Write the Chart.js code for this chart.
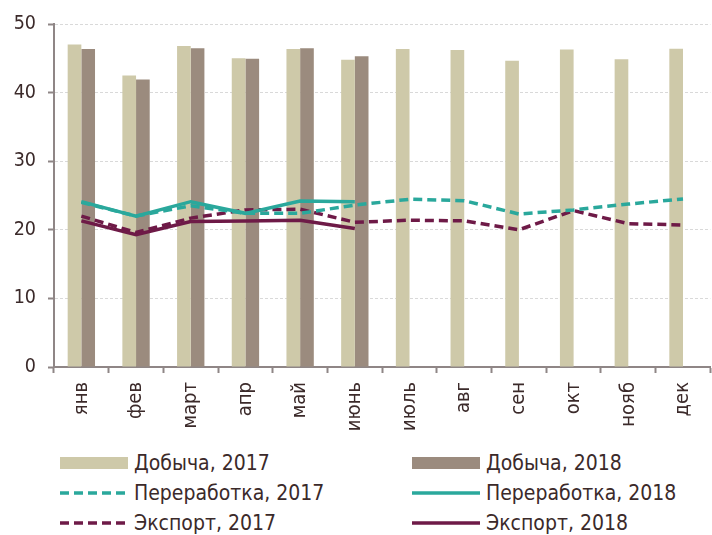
<!DOCTYPE html>
<html>
<head>
<meta charset="utf-8">
<script src="https://cdn.jsdelivr.net/npm/chart.js@4.4.1/dist/chart.umd.min.js"></script>
<style>
  body { margin: 0; background: #fff; overflow: hidden; width: 712px; height: 535px; position: relative; }
  #wrap { position: absolute; left: 0; top: 0; width: 716px; height: 440px; }
  .leg { position: absolute; height: 30px; display: flex; align-items: center; font-family: "DejaVu Sans Condensed", sans-serif; font-size: 21px; color: #3b2a2a; white-space: nowrap; }
  .leg svg { margin-right: 6px; }
</style>
</head>
<body>
<div id="wrap"><canvas id="chart" width="716" height="440"></canvas></div>
<div id="legend"></div>
<script>
const months = ['янв', 'фев', 'март', 'апр', 'май', 'июнь', 'июль', 'авг', 'сен', 'окт', 'нояб', 'дек'];
const yTicks = [0, 10, 20, 30, 40, 50];

const dobycha2017 = [47.0, 42.5, 46.8, 45.0, 46.35, 44.8, 46.35, 46.2, 44.65, 46.3, 44.85, 46.4];
const dobycha2018 = [46.35, 41.9, 46.45, 44.95, 46.45, 45.3];
const pererab2017 = [24.0, 22.0, 23.5, 22.4, 22.4, 23.6, 24.45, 24.25, 22.3, 22.9, 23.75, 24.5];
const pererab2018 = [24.1, 22.0, 24.1, 22.4, 24.2, 24.1];
const eksport2017 = [22.0, 19.6, 21.7, 22.9, 23.0, 21.1, 21.4, 21.3, 20.0, 22.8, 20.9, 20.7];
const eksport2018 = [21.3, 19.3, 21.2, 21.3, 21.4, 20.2];

const beige = '#cec9a9', brown = '#9b8b7e', teal = '#2aa89c', maroon = '#6e1a47';
const textColor = '#3b2a2a', axisColor = '#8f8686';
const fontFamily = '"DejaVu Sans Condensed", sans-serif';

var ctx = document.getElementById('chart').getContext('2d');

var myChart = new Chart(ctx, {
    type: 'bar',
    data: {
        labels: months,
        datasets: [
            { type: 'line', label: 'Переработка, 2018', data: pererab2018, borderColor: teal, borderWidth: 3.5, pointRadius: 0, tension: 0, order: 0 },
            { type: 'line', label: 'Экспорт, 2018', data: eksport2018, borderColor: maroon, borderWidth: 3.5, pointRadius: 0, tension: 0, order: 0 },
            { type: 'line', label: 'Переработка, 2017', data: pererab2017, borderColor: teal, borderWidth: 3.5, borderDash: [9, 5], pointRadius: 0, tension: 0, order: 0 },
            { type: 'line', label: 'Экспорт, 2017', data: eksport2017, borderColor: maroon, borderWidth: 3.5, borderDash: [9, 5], pointRadius: 0, tension: 0, order: 0 },
            { label: 'Добыча, 2017', data: dobycha2017, backgroundColor: beige, order: 1, categoryPercentage: 0.5, barPercentage: 1.0 },
            { label: 'Добыча, 2018', data: dobycha2018, backgroundColor: brown, order: 1, categoryPercentage: 0.5, barPercentage: 1.0 }
        ]
    },
    options: {
        responsive: false,
        animation: false,
        layout: { padding: { top: 24, left: 0, right: 0, bottom: 0 } },
        plugins: { legend: { display: false }, tooltip: { enabled: false } },
        scales: {
            x: {
                afterFit: function(s) { s.height = 73; },
                grid: { drawOnChartArea: false, drawTicks: true, tickLength: 6, tickColor: axisColor, tickWidth: 2 },
                border: { color: axisColor, width: 2 },
                ticks: { minRotation: 90, maxRotation: 90, padding: 9, color: textColor, font: { family: fontFamily, size: 20 } }
            },
            y: {
                min: 0, max: 50,
                afterFit: function(s) { s.width = 54; },
                afterBuildTicks: function(s) { s.ticks = yTicks.map(v => ({ value: v })); },
                grid: { color: '#d9d9d9', lineWidth: 1, tickLength: 6, tickColor: axisColor, tickWidth: 2 },
                border: { color: axisColor, width: 2, dash: [3, 2] },
                ticks: { padding: 12, color: textColor, font: { family: fontFamily, size: 19.5 } }
            }
        }
    }
});

// legend, two columns as in the reference
const legendItems = [
    { label: 'Добыча, 2017', kind: 'rect', color: beige, col: 0, row: 0 },
    { label: 'Добыча, 2018', kind: 'rect', color: brown, col: 1, row: 0 },
    { label: 'Переработка, 2017', kind: 'dash', color: teal, col: 0, row: 1 },
    { label: 'Переработка, 2018', kind: 'line', color: teal, col: 1, row: 1 },
    { label: 'Экспорт, 2017', kind: 'dash', color: maroon, col: 0, row: 2 },
    { label: 'Экспорт, 2018', kind: 'line', color: maroon, col: 1, row: 2 }
];
const legend = document.getElementById('legend');
legendItems.forEach(it => {
    var d = document.createElement('div');
    d.className = 'leg';
    d.style.left = (it.col === 0 ? 60 : 412) + 'px';
    d.style.top = (448 + it.row * 30) + 'px';
    var sw;
    if (it.kind === 'rect') {
        sw = `<svg width="68" height="14"><rect x="0" y="1" width="68" height="12" fill="${it.color}"/></svg>`;
    } else {
        var dash = it.kind === 'dash' ? 'stroke-dasharray="9,5"' : '';
        sw = `<svg width="68" height="14"><line x1="0" y1="7" x2="68" y2="7" stroke="${it.color}" stroke-width="3.5" ${dash}/></svg>`;
    }
    d.innerHTML = sw + '<span>' + it.label + '</span>';
    legend.appendChild(d);
});
</script>
</body>
</html>
